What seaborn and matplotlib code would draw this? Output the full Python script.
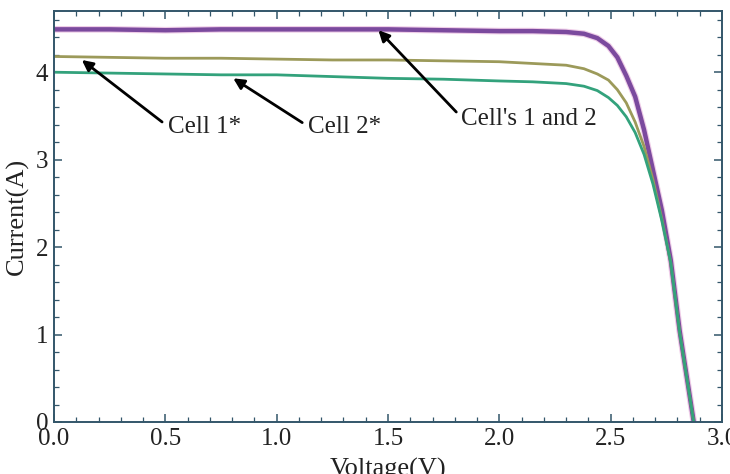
"""
I-V curves of cell 1*, cell 2* and the two cells together
"""
import numpy as np
import pandas as pd
import matplotlib
matplotlib.use('Agg')
import matplotlib.pyplot as plt
from matplotlib.ticker import MultipleLocator, FormatStrFormatter
import seaborn as sns

# Data
volts = [0.0, 0.25, 0.5, 0.75, 1.0, 1.25, 1.5, 1.75, 2.0, 2.15, 2.3, 2.38,
         2.44, 2.49, 2.53, 2.57, 2.61, 2.65, 2.69, 2.73, 2.77, 2.81, 2.873]
cells_1_2 = [4.49, 4.49, 4.48, 4.49, 4.49, 4.49, 4.49, 4.48, 4.47, 4.47, 4.46, 4.44,
             4.39, 4.30, 4.17, 3.96, 3.72, 3.34, 2.88, 2.42, 1.85, 1.04, 0.0]
cell_1 = [4.18, 4.17, 4.16, 4.16, 4.15, 4.14, 4.14, 4.13, 4.12, 4.10, 4.08, 4.04,
          3.98, 3.91, 3.80, 3.65, 3.43, 3.15, 2.77, 2.32, 1.82, 1.02, 0.0]
cell_2 = [4.00, 3.99, 3.98, 3.97, 3.97, 3.95, 3.93, 3.92, 3.90, 3.89, 3.87, 3.84,
          3.79, 3.71, 3.62, 3.49, 3.31, 3.06, 2.72, 2.30, 1.82, 1.02, 0.0]

labels = ["Cell 1*", "Cell 2*", "Cell's 1 and 2"]
label_pos = [(0.51, 3.37), (1.14, 3.37), (1.83, 3.47)]
arrow_tips = [(0.125, 4.14), (0.805, 3.93), (1.457, 4.48)]

sns.set_style("ticks")
plt.rcParams['font.family'] = ['Liberation Serif', 'DejaVu Serif']

frame_col = '#33566a'
text_col = '#222222'

fig = plt.figure(figsize=(7.3, 4.74), dpi=100)
ax = fig.add_axes([54 / 730, 52 / 474, 668 / 730, 411 / 474])

# purple curve gets a faint pink halo like the original
sns.lineplot(x=volts, y=cells_1_2, ax=ax, color='#efcde8', lw=4.8, sort=False, estimator=None)
sns.lineplot(x=volts, y=cells_1_2, ax=ax, color='#7b4a9e', lw=3.2, sort=False, estimator=None)
sns.lineplot(x=volts, y=cell_1, ax=ax, color='#9c9a5a', lw=2.0, sort=False, estimator=None)
sns.lineplot(x=volts, y=cell_2, ax=ax, color='#33a27c', lw=2.0, sort=False, estimator=None)

ax.set_xlim(0, 3.0)
ax.set_ylim(0, 4.7)
ax.xaxis.set_major_locator(MultipleLocator(0.5))
ax.xaxis.set_minor_locator(MultipleLocator(0.1))
ax.yaxis.set_major_locator(MultipleLocator(1))
ax.yaxis.set_minor_locator(MultipleLocator(0.2))
ax.xaxis.set_major_formatter(FormatStrFormatter('%.1f'))
ax.yaxis.set_major_formatter(FormatStrFormatter('%d'))

ax.tick_params(which='both', direction='in', top=True, right=True,
               color=frame_col, labelsize=18, labelcolor=text_col)
ax.tick_params(which='major', length=6, width=1.1, pad=4)
ax.tick_params(which='minor', length=3.5, width=0.9)
for sp in ax.spines.values():
    sp.set_color(frame_col)
    sp.set_linewidth(1.4)

ax.set_xlabel('Voltage(V)', fontsize=19, color=text_col, labelpad=6)
ax.set_ylabel('Current(A)', fontsize=19, color=text_col, labelpad=5)

for txt, pos, tip in zip(labels, label_pos, arrow_tips):
    ax.annotate(txt, xy=tip, xytext=pos, fontsize=18, color=text_col,
                ha='left', va='center',
                arrowprops=dict(arrowstyle='-|>', color='black', lw=2,
                                mutation_scale=16, shrinkA=2, shrinkB=0,
                                relpos=(0.0, 0.55)))

fig.savefig('out.png', dpi=100)
